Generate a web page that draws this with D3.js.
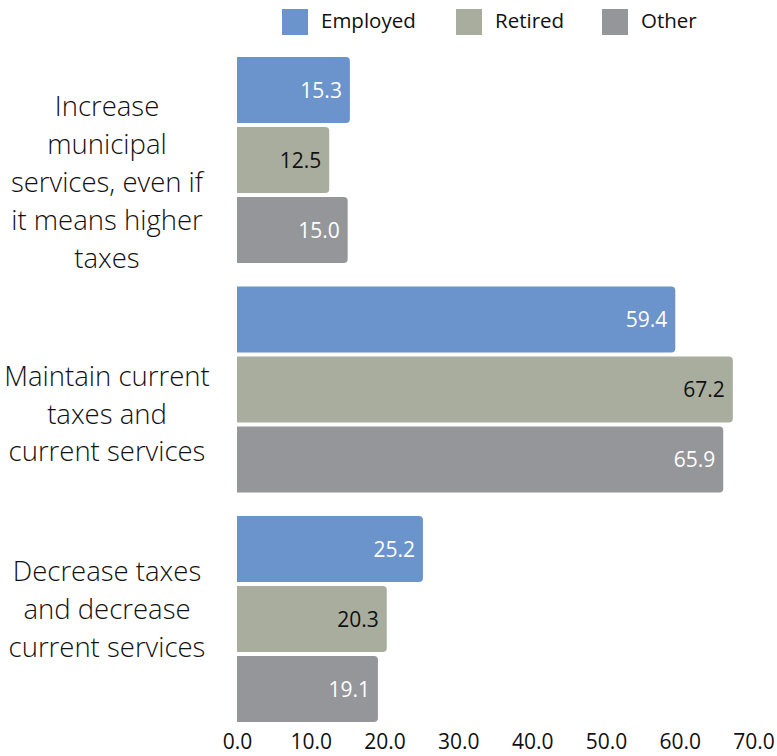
<!DOCTYPE html>
<html>
<head>
<meta charset="utf-8">
<script src="https://cdn.jsdelivr.net/npm/d3@7"></script>
<style>
  html, body { margin: 0; padding: 0; background: #fff; }
  svg { display: block; font-family: "Open Sans", sans-serif; font-weight: 400; }
</style>
</head>
<body>
<svg id="chart" width="777" height="756"></svg>
<script>
// Survey responses (%) by employment status
const categories = [
  "Increase municipal services, even if it means higher taxes",
  "Maintain current taxes and current services",
  "Decrease taxes and decrease current services"
];
const categoryLines = [
  ["Increase", "municipal", "services, even if", "it means higher", "taxes"],
  ["Maintain current", "taxes and", "current services"],
  ["Decrease taxes", "and decrease", "current services"]
];
const seriesNames = ["Employed", "Retired", "Other"];
const employed = [15.3, 59.4, 25.2];
const retired  = [12.5, 67.2, 20.3];
const other    = [15.0, 65.9, 19.1];
const tickValues = [0, 10, 20, 30, 40, 50, 60, 70];

const seriesValues = [employed, retired, other];
const colors = ["#6b93cc", "#a9ad9e", "#959699"];
const labelColors = ["#ffffff", "#111111", "#ffffff"];
// vertical nudge of each category label block relative to its band centre
const labelShift = [32, 34, 0];

const svg = d3.select("#chart");

const x = d3.scaleLinear().domain([0, 70]).range([237, 753.5]);
const y0 = d3.scaleBand().domain(categories).range([57, 722]).paddingInner(0.1024).paddingOuter(0);
const y1 = d3.scaleBand().domain(seriesNames).range([0, y0.bandwidth()]).paddingInner(0.0571).paddingOuter(0);

// bar with square left edge and rounded right corners
function barPath(x0, x1, yt, h, r) {
  r = Math.min(r, (x1 - x0));
  return `M${x0},${yt}H${x1 - r}Q${x1},${yt} ${x1},${yt + r}V${yt + h - r}Q${x1},${yt + h} ${x1 - r},${yt + h}H${x0}Z`;
}

const rows = [];
categories.forEach((c, ci) => {
  seriesNames.forEach((s, si) => {
    rows.push({ cat: c, ci, series: s, si, value: seriesValues[si][ci] });
  });
});

const g = svg.append("g");
g.selectAll("path.bar")
  .data(rows)
  .join("path")
  .attr("class", "bar")
  .attr("fill", d => colors[d.si])
  .attr("d", d => barPath(x(0), x(d.value), y0(d.cat) + y1(d.series), y1.bandwidth(), 4));

g.selectAll("text.val")
  .data(rows)
  .join("text")
  .attr("class", "val")
  .attr("x", d => x(d.value) - 8)
  .attr("y", d => y0(d.cat) + y1(d.series) + y1.bandwidth() / 2)
  .attr("dy", "0.36em")
  .attr("text-anchor", "end")
  .attr("font-size", 21)
  .attr("fill", d => labelColors[d.si])
  .text(d => d.value.toFixed(1));

// category labels
const lineH = 37.8;
categories.forEach((c, ci) => {
  const lines = categoryLines[ci];
  const cy = y0(c) + y0.bandwidth() / 2 + labelShift[ci];
  const first = cy - (lines.length - 1) / 2 * lineH;
  const t = svg.append("text")
    .attr("text-anchor", "middle")
    .attr("font-size", 27.5)
    .attr("font-weight", 300)
    .attr("fill", "#111111");
  lines.forEach((ln, li) => {
    t.append("tspan").attr("x", 107).attr("y", first + li * lineH).text(ln);
  });
});

// x axis (labels only)
const axis = d3.axisBottom(x).tickValues(tickValues).tickFormat(d3.format(".1f")).tickSize(0).tickPadding(0);
const ax = svg.append("g").attr("transform", "translate(0,734)").call(axis);
ax.select(".domain").remove();
ax.selectAll("text")
  .attr("font-size", 21)
  .attr("font-family", "\"Open Sans\", sans-serif")
  .attr("fill", "#111111")
  .attr("dy", "0.72em");

// legend
const legendX = [282, 456, 602];
const leg = svg.append("g");
seriesNames.forEach((s, i) => {
  leg.append("rect").attr("x", legendX[i]).attr("y", 9).attr("width", 26).attr("height", 26).attr("fill", colors[i]);
  leg.append("text").attr("x", legendX[i] + 39).attr("y", 21).attr("dy", "0.36em")
    .attr("font-size", 20.5).attr("fill", "#111111").text(s);
});
</script>
</body>
</html>
